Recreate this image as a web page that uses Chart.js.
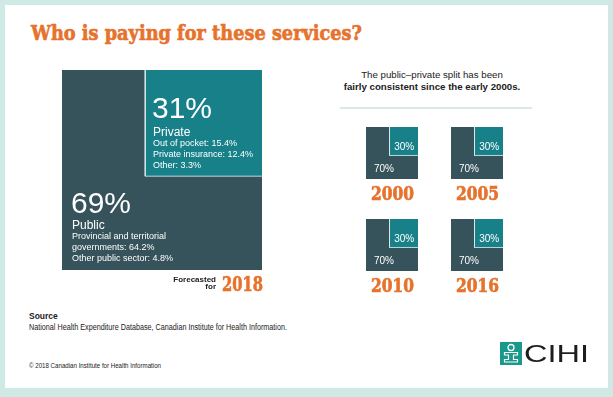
<!DOCTYPE html>
<html>
<head>
<meta charset="utf-8">
<script src="https://cdn.jsdelivr.net/npm/chart.js@4/dist/chart.umd.min.js"></script>
<style>
  html,body{margin:0;padding:0;background:#cfe9e5;}
  #frame{position:relative;width:613px;height:397px;background:#cfe9e5;overflow:hidden;font-family:"Liberation Sans",Arial,sans-serif;}
  #inner{position:absolute;left:5px;top:5px;width:603px;height:383px;background:#fff;}
  .t{position:absolute;white-space:nowrap;line-height:1;}
  .slab{font-family:"DejaVu Serif",serif;font-weight:bold;font-stretch:condensed;color:#e7722b;transform-origin:0 0;-webkit-text-stroke:0.6px #e7722b;}
  canvas{position:absolute;}
  .w{color:#fff;}
</style>
</head>
<body>
<div id="frame">
  <div id="inner"></div>
</div>
<script>
// ---- data ----
const years = ['2000', '2005', '2010', '2016'];
const publicShare = [70, 70, 70, 70];
const privateShare = [30, 30, 30, 30];
const forecastYear = '2018';
const forecastPublic = 69;
const forecastPrivate = 31;
const privateParts = ['Out of pocket', 'Private insurance', 'Other'];
const privateValues = [15.4, 12.4, 3.3];
const publicParts = ['Provincial and territorial governments', 'Other public sector'];
const publicValues = [64.2, 4.8];

// ---- styling ----
const DARK = '#36525a';
const TEAL = '#178088';
const frame = document.getElementById('frame');

function addText(html, x, y, size, opts = {}) {
  const d = document.createElement('div');
  d.className = 't ' + (opts.cls || '');
  d.innerHTML = html;
  d.style.left = x + 'px';
  d.style.top = y + 'px';
  d.style.fontSize = size + 'px';
  if (opts.weight) d.style.fontWeight = opts.weight;
  if (opts.color) d.style.color = opts.color;
  if (opts.lh) d.style.lineHeight = opts.lh + 'px';
  if (opts.ls) d.style.letterSpacing = opts.ls + 'px';
  frame.appendChild(d);
  if (opts.fitW) {
    const w = d.getBoundingClientRect().width;
    d.style.transform = 'scaleX(' + (opts.fitW / w) + ')';
    d.style.transformOrigin = '0 0';
  }
  if (opts.center !== undefined) {
    const w = d.getBoundingClientRect().width;
    const realW = opts.fitW || w;
    d.style.left = (opts.center - realW / 2) + 'px';
  }
  if (opts.right !== undefined) {
    const w = d.getBoundingClientRect().width;
    d.style.left = (opts.right - w) + 'px';
  }
  return d;
}

function makeSquare(x, y, size, pub, priv, aspect) {
  const c = document.createElement('canvas');
  c.width = size; c.height = size;
  c.style.left = x + 'px'; c.style.top = y + 'px';
  frame.appendChild(c);
  const w = Math.sqrt(priv / (pub + priv) * aspect);
  const h = Math.sqrt(priv / (pub + priv) / aspect);
  new Chart(c, {
    type: 'line',
    data: {
      datasets: [
        { label: 'Public', data: [{x: 0, y: 1}, {x: 1, y: 1}], fill: {value: 0},
          backgroundColor: DARK, borderWidth: 0, borderColor: 'rgba(0,0,0,0)', pointRadius: 0, order: 3 },
        { label: 'Private', data: [{x: 1 - w, y: 1}, {x: 1, y: 1}], fill: {value: 1 - h},
          backgroundColor: TEAL, borderWidth: 0, borderColor: 'rgba(0,0,0,0)', pointRadius: 0, order: 2 },
        { label: 'edge', data: [{x: 1 - w, y: 1.01}, {x: 1 - w, y: 1 - h}, {x: 1.01, y: 1 - h}], fill: false,
          borderColor: 'rgba(215,235,235,0.85)', borderWidth: 1, pointRadius: 0, tension: 0, order: 1 }
      ]
    },
    options: {
      responsive: false, animation: false, devicePixelRatio: 1,
      layout: {padding: 0},
      plugins: {legend: {display: false}, tooltip: {enabled: false}},
      scales: {
        x: {type: 'linear', min: 0, max: 1, display: false},
        y: {type: 'linear', min: 0, max: 1, display: false}
      }
    }
  });
  return {w, h};
}

// title
addText('Who is paying for these services?', 31, 22, 21, {cls: 'slab', fitW: 331});

// big square
makeSquare(62, 70, 200, forecastPublic, forecastPrivate, 1.1);
addText(forecastPrivate + '%', 152, 93, 30, {cls: 'w'});
addText('Private', 153, 125.5, 12, {cls: 'w'});
addText(privateParts.map((p, i) => p + ': ' + privateValues[i] + '%').join('<br>'), 153, 137.5, 9, {cls: 'w', lh: 11.3});
addText(forecastPublic + '%', 71, 188, 30, {cls: 'w'});
addText('Public', 72, 218.5, 12, {cls: 'w'});
addText('Provincial and territorial<br>governments: ' + publicValues[0] + '%<br>' + publicParts[1] + ': ' + publicValues[1] + '%', 72, 230.8, 9, {cls: 'w', lh: 11.2});

addText('Forecasted', 0, 275.5, 8, {weight: 'bold', color: '#222', right: 216});
addText('for', 0, 283, 8, {weight: 'bold', color: '#222', right: 216});
addText(forecastYear, 222, 274, 20, {cls: 'slab', fitW: 41});

// header of right block
addText('The public\u2013private split has been', 0, 69.7, 9.7, {color: '#222', center: 432});
addText('fairly consistent since the early 2000s.', 0, 82, 9.7, {color: '#222', weight: 'bold', center: 432});
const line = document.createElement('div');
line.style.cssText = 'position:absolute;left:340px;top:107px;width:192px;height:2px;background:#d6ebe8;';
frame.appendChild(line);

// small multiples
const pos = [[366, 127], [451, 127], [366, 219], [451, 219]];
years.forEach((yr, i) => {
  const [x, y] = pos[i];
  const r = makeSquare(x, y, 52, publicShare[i], privateShare[i], 1);
  const tealLeft = x + 52 * (1 - r.w);
  addText(privateShare[i] + '%', 0, y + 15, 10, {cls: 'w', center: tealLeft + 52 * r.w / 2 + 0.5});
  addText(publicShare[i] + '%', x + 8, y + 36.5, 10, {cls: 'w'});
  addText(yr, 0, y + 57.5, 18, {cls: 'slab', fitW: 43, center: x + 26});
});

// source
addText('Source', 29, 312, 8.5, {weight: 'bold', color: '#222'});
addText('National Health Expenditure Database, Canadian Institute for Health Information.', 29, 322.5, 8.5, {color: '#222', fitW: 258});
addText('\u00a9 2018 Canadian Institute for Health Information', 29, 362, 7, {color: '#222', fitW: 132});

// logo
const logo = document.createElement('div');
logo.style.cssText = 'position:absolute;left:500px;top:342px;width:22px;height:23px;';
logo.innerHTML = '<svg width="22" height="23" viewBox="0 0 22 23"><rect width="22" height="23" fill="#19998c"/>' +
  '<circle cx="11" cy="5.5" r="3" fill="none" stroke="#fff" stroke-width="1.3"/>' +
  '<path d="M4.5 10.5h13v2.5h-4v4.5h4v2.5h-13v-2.5h4v-4.5h-4z" fill="none" stroke="#fff" stroke-width="1.2"/></svg>';
frame.appendChild(logo);
addText('CIHI', 524, 341.5, 24, {color: '#1d1d1d', fitW: 65});
</script>
</body>
</html>
